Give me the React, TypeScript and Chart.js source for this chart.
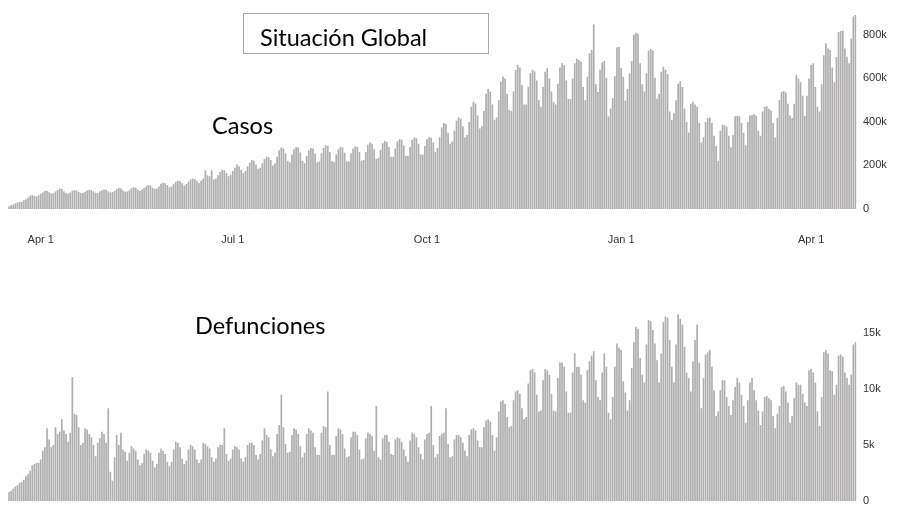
import { useEffect, useRef } from "react";
import { Chart, registerables } from "chart.js";

Chart.register(...registerables);

// Primer día representado (una barra por día)
const startDate = "2020-03-17";

// Etiquetas del eje X (solo gráfico superior)
const tickDates = ["2020-04-01", "2020-07-01", "2020-10-01", "2021-01-01", "2021-04-01"];
const tickLabels = ["Apr 1", "Jul 1", "Oct 1", "Jan 1", "Apr 1"];

// Marcas del eje Y (en miles)
const casosTicks = [0, 200, 400, 600, 800];
const defuncionesTicks = [0, 5, 10, 15];

// Casos diarios (miles), una fila por semana (mar→lun)
const casos = [
  13, 17, 21, 26, 30, 33, 32,
  40, 45, 52, 61, 64, 60, 58,
  63, 70, 76, 83, 84, 77, 71,
  72, 80, 87, 95, 92, 80, 73,
  70, 76, 84, 87, 85, 78, 72,
  74, 79, 85, 88, 86, 80, 75,
  73, 80, 86, 90, 88, 80, 76,
  78, 84, 92, 96, 94, 85, 79,
  80, 86, 95, 100, 98, 88, 84,
  90, 97, 105, 110, 108, 98, 93,
  94, 103, 116, 121, 118, 110, 100,
  103, 115, 125, 130, 128, 118, 108,
  115, 125, 136, 140, 138, 130, 120,
  130, 140, 178, 155, 150, 178, 136,
  140, 155, 170, 180, 178, 165, 150,
  158, 175, 190, 205, 195, 180, 165,
  175, 195, 212, 225, 222, 205, 185,
  190, 210, 230, 240, 238, 225, 200,
  210, 240, 270, 282, 278, 255, 220,
  215, 250, 275, 285, 283, 260, 220,
  210, 245, 270, 280, 278, 255, 215,
  218, 255, 280, 292, 290, 262, 220,
  215, 250, 275, 285, 282, 258, 218,
  218, 255, 278, 288, 285, 262, 222,
  225, 262, 295, 306, 300, 275, 230,
  235, 272, 302, 314, 308, 285, 240,
  240, 278, 310, 321, 318, 292, 245,
  245, 285, 318, 329, 325, 300, 250,
  250, 290, 320, 330, 326, 305, 262,
  280, 330, 375, 395, 390, 350, 300,
  310, 360, 405, 420, 415, 380, 330,
  340, 400, 470, 493, 485, 430, 370,
  380, 450, 530, 551, 540, 480, 410,
  420, 500, 585, 609, 600, 530, 455,
  450, 540, 640, 662, 650, 570, 480,
  480, 560, 625, 640, 632, 590, 500,
  470, 560, 630, 648, 600, 540, 490,
  480, 575, 650, 670, 660, 590, 505,
  505, 600, 670, 690, 685, 676, 560,
  500, 608, 715, 730, 848, 573, 537,
  640, 673, 680, 603, 425, 462, 510,
  610, 742, 744, 648, 608, 498, 551,
  624, 680, 800, 810, 805, 670, 573,
  540, 624, 728, 735, 728, 603, 507,
  529, 631, 653, 640, 620, 448, 410,
  440, 500, 575, 587, 560, 462, 400,
  351, 484, 493, 480, 470, 395, 306,
  330, 400, 418, 420, 395, 337, 290,
  222, 360, 387, 385, 378, 337, 284,
  340, 426, 428, 426, 395, 350, 293,
  400, 430, 432, 435, 428, 360, 337,
  448, 470, 472, 460, 453, 395, 329,
  418, 500, 538, 542, 535, 484, 430,
  418, 484, 617, 600, 582, 520, 427,
  520, 600, 662, 670, 560, 470, 448,
  573, 706, 760, 737, 730, 650, 582,
  698, 813, 818, 820, 737, 700, 670,
  782, 884, 891,
];

// Defunciones diarias (miles), una fila por semana (mar→lun)
const defunciones = [
  0.8, 0.9, 1.1, 1.3, 1.4, 1.6, 1.7,
  1.9, 2.2, 2.4, 2.7, 3.2, 3.3, 3.4,
  3.4, 3.7, 4.5, 4.8, 6.5, 5.5, 4.8,
  5.0, 6.6, 6.0, 6.2, 7.3, 6.3, 6.0,
  5.3, 6.1, 11.1, 7.8, 7.7, 6.6, 5.0,
  5.2, 6.5, 6.4, 6.0, 5.7, 5.0, 4.0,
  5.2, 5.6, 6.2, 6.0, 5.2, 8.3, 2.6,
  1.8, 3.9, 5.9, 5.0, 6.1, 4.6, 4.4,
  3.6, 4.3, 4.9, 4.7, 4.5, 3.7, 3.2,
  3.4, 4.2, 4.6, 4.5, 4.3, 3.6, 3.0,
  3.3, 4.3, 4.7, 4.5, 4.2, 3.5, 3.1,
  3.5, 4.6, 5.3, 5.2, 4.8, 3.8, 3.3,
  3.6, 4.6, 5.0, 4.9, 4.6, 3.7, 3.4,
  3.7, 5.2, 5.1, 4.9, 4.7, 3.9, 3.5,
  3.8, 4.8, 5.0, 5.0, 6.5, 4.2, 3.6,
  3.8, 4.6, 4.9, 4.8, 4.6, 3.8, 3.5,
  3.9, 5.0, 5.2, 5.2, 5.0, 4.1, 3.7,
  4.2, 5.4, 6.5, 5.9, 5.7, 4.6, 4.0,
  4.3, 6.0, 6.8, 9.5, 6.6, 5.1, 4.3,
  4.4, 5.9, 6.5, 6.4, 6.0, 4.9, 3.9,
  4.3, 6.0, 6.5, 6.3, 6.1, 4.8, 4.1,
  4.1, 6.1, 6.7, 6.6, 9.8, 5.0, 4.1,
  4.1, 5.8, 6.5, 6.4, 6.0, 4.7, 3.9,
  4.0, 5.7, 6.2, 6.2, 5.9, 4.6, 3.7,
  3.8, 5.6, 6.1, 6.0, 5.8, 4.5, 8.5,
  3.9, 3.7, 5.6, 5.9, 5.9, 5.3, 4.2,
  4.1, 5.5, 5.7, 5.6, 5.3, 4.6, 4.0,
  3.5, 5.4, 6.1, 6.0, 5.7, 4.8, 4.2,
  3.7, 5.5, 6.0, 6.1, 8.5, 5.0, 3.9,
  4.2, 5.8, 6.0, 6.1, 8.3, 5.1, 3.9,
  4.0, 5.5, 5.9, 5.9, 5.7, 5.2, 4.5,
  4.0, 5.9, 6.4, 6.5, 6.3, 5.4, 4.8,
  4.8, 6.6, 7.2, 7.3, 7.1, 5.9, 4.5,
  5.7, 8.0, 8.9, 9.0, 8.7, 7.5, 6.6,
  6.7, 9.0, 9.8, 9.9, 9.6, 8.3, 7.3,
  7.5, 10.5, 11.7, 11.8, 11.5, 9.5, 8.0,
  8.1, 10.8, 11.8, 11.7, 11.3, 9.6, 8.1,
  8.0, 11.0, 12.4, 12.4, 12.0, 9.8, 7.9,
  7.9, 11.5, 13.2, 12.0, 12.0, 11.3, 9.0,
  8.8, 11.7, 12.5, 13.0, 13.4, 10.8, 9.3,
  9.0, 11.5, 13.2, 12.0, 7.9, 7.3, 9.3,
  12.0, 14.1, 13.7, 13.5, 10.7, 9.7, 8.1,
  9.0, 11.9, 14.2, 15.6, 15.4, 12.8, 11.3,
  10.6, 14.0, 16.2, 16.1, 15.3, 14.1, 12.6,
  10.6, 13.2, 16.0, 16.5, 16.4, 14.4, 12.0,
  10.6, 14.0, 16.7, 16.3, 15.8, 13.8, 11.5,
  11.0, 9.8, 12.5, 14.4, 15.8, 12.4, 8.3,
  11.0, 13.1, 13.3, 13.5, 12.0, 9.9, 7.6,
  8.0, 9.9, 10.8, 10.8, 9.3, 8.5, 7.7,
  9.0, 10.2, 11.0, 10.6, 9.5, 8.5, 7.0,
  9.0, 10.6, 11.0, 9.9, 9.0, 8.1, 6.8,
  8.0, 9.3, 9.4, 9.2, 9.0, 7.6, 6.5,
  7.8, 8.5, 10.2, 10.3, 9.8, 8.8, 7.0,
  7.6, 9.2, 10.6, 10.4, 10.4, 9.6, 8.8,
  8.5, 11.7, 11.8, 11.5, 10.6, 8.0, 6.7,
  9.3, 13.3, 13.5, 13.2, 11.7, 11.6, 9.5,
  10.4, 13.0, 13.1, 12.9, 11.5, 11.0, 10.4,
  11.3, 14.0, 14.2,
];

function buildDates(start: string, n: number): string[] {
  const t0 = Date.parse(start + "T00:00:00Z");
  const out: string[] = [];
  for (let i = 0; i < n; i++) {
    out.push(new Date(t0 + i * 86400000).toISOString().slice(0, 10));
  }
  return out;
}

const dates = buildDates(startDate, casos.length);

const BAR_COLOR = "#b0aeae";
const TICK_FONT = { family: "'Liberation Sans', Arial, sans-serif", size: 11 };
const TICK_COLOR = "#333333";
const TEXT_FONT = "Lato, 'Open Sans', sans-serif";

function kLabel(v: number | string) {
  const n = Number(v);
  return n === 0 ? "0" : n + "k";
}

function BarChart(props: {
  values: number[];
  yMax: number;
  yTicks: number[];
  showX: boolean;
  top: number;
  height: number;
  padTop: number;
  padBottom: number;
}) {
  const ref = useRef<HTMLCanvasElement | null>(null);
  useEffect(() => {
    if (!ref.current) return;
    const chart = new Chart(ref.current, {
      type: "bar",
      data: {
        labels: dates,
        datasets: [
          {
            data: props.values,
            backgroundColor: BAR_COLOR,
            borderWidth: 0,
            barPercentage: 0.8,
            categoryPercentage: 1,
          },
        ],
      },
      options: {
        animation: false,
        responsive: false,
        events: [],
        layout: { padding: { left: 8, right: 0, top: props.padTop, bottom: props.padBottom } },
        plugins: { legend: { display: false }, tooltip: { enabled: false }, title: { display: false } },
        scales: {
          x: {
            type: "category",
            display: props.showX,
            grid: { display: false, drawTicks: false },
            border: { display: false },
            ticks: {
              autoSkip: false,
              maxRotation: 0,
              minRotation: 0,
              padding: 24,
              color: TICK_COLOR,
              font: TICK_FONT,
              callback: (value: any) => {
                const i = tickDates.indexOf(dates[Number(value)]);
                return i >= 0 ? tickLabels[i] : "";
              },
            },
            afterBuildTicks: (s: any) => {
              s.ticks = tickDates.map((d) => ({ value: dates.indexOf(d) }));
            },
            afterFit: (s: any) => {
              s.height = props.showX ? 51 : 0;
            },
          },
          y: {
            position: "right",
            min: 0,
            max: props.yMax,
            grid: { display: false, drawTicks: false },
            border: { display: false },
            ticks: {
              padding: 6.5,
              color: TICK_COLOR,
              font: TICK_FONT,
              callback: (v: any) => kLabel(v),
            },
            afterBuildTicks: (s: any) => {
              s.ticks = props.yTicks.map((v) => ({ value: v }));
            },
            afterFit: (s: any) => {
              s.width = 51.5;
            },
          },
        },
      },
    } as any);
    return () => chart.destroy();
  }, []);
  return (
    <canvas
      ref={ref}
      width={908}
      height={props.height}
      style={{ position: "absolute", left: 0, top: props.top, width: 908, height: props.height }}
    />
  );
}

const textStyle = (left: number, top: number): React.CSSProperties => ({
  position: "absolute",
  left,
  top,
  fontFamily: TEXT_FONT,
  fontSize: 23.5,
  lineHeight: "23px",
  color: "#000",
  whiteSpace: "nowrap",
});

export default function App() {
  return (
    <div
      style={{
        position: "absolute",
        left: 0,
        top: 0,
        width: 908,
        height: 506,
        overflow: "hidden",
        background: "#fff",
      }}
    >
      <BarChart values={casos} yMax={900} yTicks={casosTicks} showX={true} top={0} height={260} padTop={6.6} padBottom={0} />
      <BarChart values={defunciones} yMax={17} yTicks={defuncionesTicks} showX={false} top={290} height={224} padTop={21} padBottom={13} />
      <div
        style={{
          position: "absolute",
          left: 243,
          top: 13,
          width: 244,
          height: 39,
          border: "1px solid #a8a8a8",
        }}
      />
      <div style={textStyle(260, 26)}>Situación Global</div>
      <div style={textStyle(212, 114)}>Casos</div>
      <div style={textStyle(195, 314)}>Defunciones</div>
    </div>
  );
}
